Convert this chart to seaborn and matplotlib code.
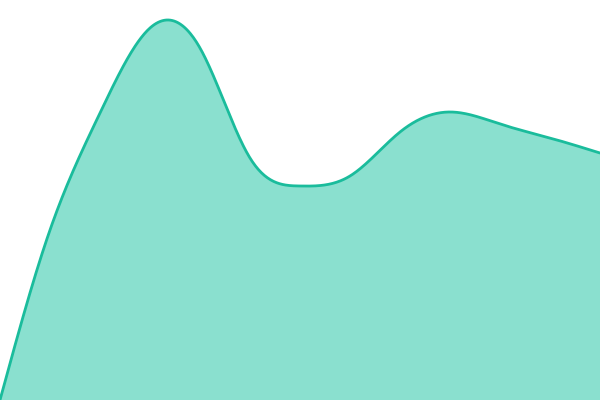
import matplotlib
matplotlib.use('Agg')
import matplotlib.pyplot as plt
import numpy as np
import pandas as pd
import seaborn as sns

# Data (13 evenly spaced points)
steps = [0, 1, 2, 3, 4, 5, 6, 7, 8, 9, 10, 11, 12]
values = [0, 170, 287, 372, 352, 242, 214, 224, 268, 288, 276, 262, 247]


def natural_spline(x, y, n=600):
    # natural cubic spline, used only to draw the smooth curve through the points
    x = np.asarray(x, float)
    y = np.asarray(y, float)
    k = len(x)
    h = np.diff(x)
    A = np.zeros((k, k))
    b = np.zeros(k)
    A[0, 0] = A[-1, -1] = 1
    for i in range(1, k - 1):
        A[i, i - 1] = h[i - 1]
        A[i, i] = 2 * (h[i - 1] + h[i])
        A[i, i + 1] = h[i]
        b[i] = 3 * ((y[i + 1] - y[i]) / h[i] - (y[i] - y[i - 1]) / h[i - 1])
    c = np.linalg.solve(A, b)
    xs = np.linspace(x[0], x[-1], n)
    idx = np.clip(np.searchsorted(x, xs, side='right') - 1, 0, k - 2)
    dx = xs - x[idx]
    bb = (y[1:] - y[:-1]) / h - h * (2 * c[:-1] + c[1:]) / 3
    dd = (c[1:] - c[:-1]) / (3 * h)
    ys = y[idx] + bb[idx] * dx + c[idx] * dx ** 2 + dd[idx] * dx ** 3
    return xs, ys


xs, ys = natural_spline(steps, values)
df = pd.DataFrame({'step': xs, 'value': ys})

sns.set_style('white')
fig = plt.figure(figsize=(6, 4), dpi=100)
ax = fig.add_axes([0, 0, 1, 1])
ax.fill_between(df['step'], 0, df['value'], color='#8ae0cf', linewidth=0)
sns.lineplot(data=df, x='step', y='value', ax=ax, color='#1abc9c', linewidth=2.0)
ax.set_xlim(0, 12)
ax.set_ylim(0, 400)
ax.axis('off')
fig.savefig('out.png', dpi=100)
